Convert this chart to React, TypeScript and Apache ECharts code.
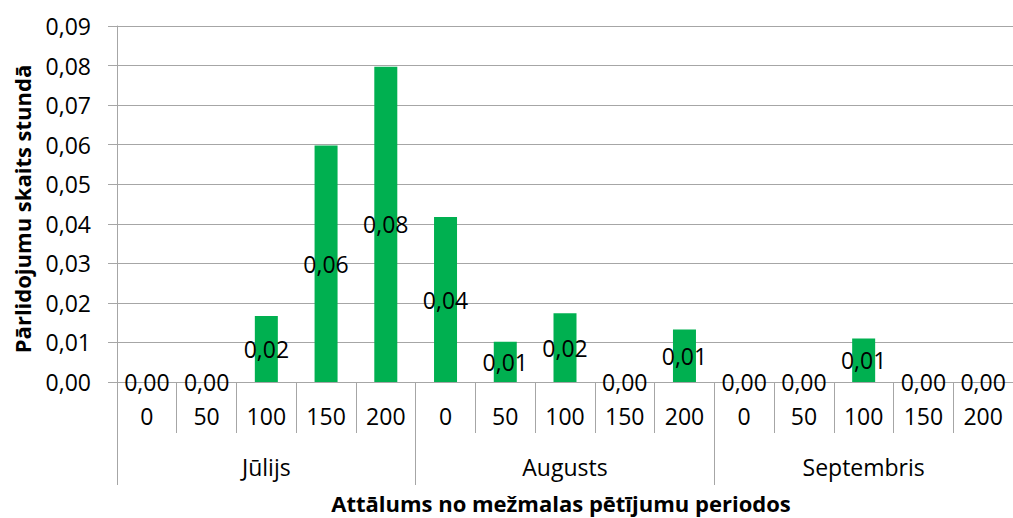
import React, { useEffect, useRef } from "react";
import * as echarts from "echarts";

const distances = ["0", "50", "100", "150", "200", "0", "50", "100", "150", "200", "0", "50", "100", "150", "200"];
const months = ["Jūlijs", "Augusts", "Septembris"];
const values = [0, 0, 0.0167, 0.0598, 0.0797, 0.0417, 0.0102, 0.0174, 0, 0.0133, 0, 0, 0.011, 0, 0];
const yTitle = "Pārlidojumu skaits stundā";
const xTitle = "Attālums no mežmalas pētījumu periodos";

const FONT = "'Open Sans', sans-serif";
const GRAY = "#a6a6a6";
const fmt = (v: number) => v.toFixed(2).replace(".", ",");

export default function App() {
  const ref = useRef<HTMLDivElement>(null);
  useEffect(() => {
    const chart = echarts.init(ref.current!, undefined, { renderer: "svg" });
    chart.setOption({
      animation: false,
      grid: { left: 117, top: 26, width: 898, height: 356, containLabel: false },
      xAxis: [
        {
          type: "category",
          data: distances,
          position: "bottom",
          axisLine: { show: true, lineStyle: { color: GRAY, width: 1 } },
          axisTick: { show: true, interval: 0, length: 51, alignWithLabel: false, lineStyle: { color: GRAY } },
          axisLabel: { interval: 0, margin: 22, color: "#000", fontSize: 23, fontFamily: FONT },
          splitLine: { show: false },
        },
        {
          type: "category",
          data: months,
          position: "bottom",
          axisLine: { show: false },
          axisTick: { show: true, interval: 0, length: 103, lineStyle: { color: GRAY } },
          axisLabel: { interval: 0, margin: 73, color: "#000", fontSize: 23, fontFamily: FONT },
          splitLine: { show: false },
        },
      ],
      yAxis: {
        type: "value",
        min: 0,
        max: 0.09,
        interval: 0.01,
        axisLine: { show: true, lineStyle: { color: GRAY } },
        axisTick: { show: true, length: 9, lineStyle: { color: GRAY } },
        axisLabel: { margin: 26, color: "#000", fontSize: 23, fontFamily: FONT, formatter: (v: number) => fmt(v) },
        splitLine: { show: true, lineStyle: { color: GRAY, width: 1 } },
      },
      series: [
        {
          type: "bar",
          xAxisIndex: 0,
          data: values,
          barWidth: 23,
          itemStyle: { color: "#00B050" },
          label: {
            show: true,
            position: "inside",
            color: "#000",
            fontSize: 23,
            fontFamily: FONT,
            formatter: (p: any) => fmt(p.value),
          },
        },
      ],
      graphic: [
        {
          type: "text",
          x: 22,
          y: 209,
          rotation: Math.PI / 2,
          style: { text: yTitle, font: `bold 22px ${FONT}`, fill: "#000", align: "center", verticalAlign: "middle" },
        },
        {
          type: "text",
          x: 561,
          y: 503,
          style: { text: xTitle, font: `bold 22px ${FONT}`, fill: "#000", align: "center", verticalAlign: "middle" },
        },
      ],
    });
    return () => chart.dispose();
  }, []);
  return <div ref={ref} style={{ position: "absolute", left: 0, top: 0, width: 1013, height: 518 }} />;
}
